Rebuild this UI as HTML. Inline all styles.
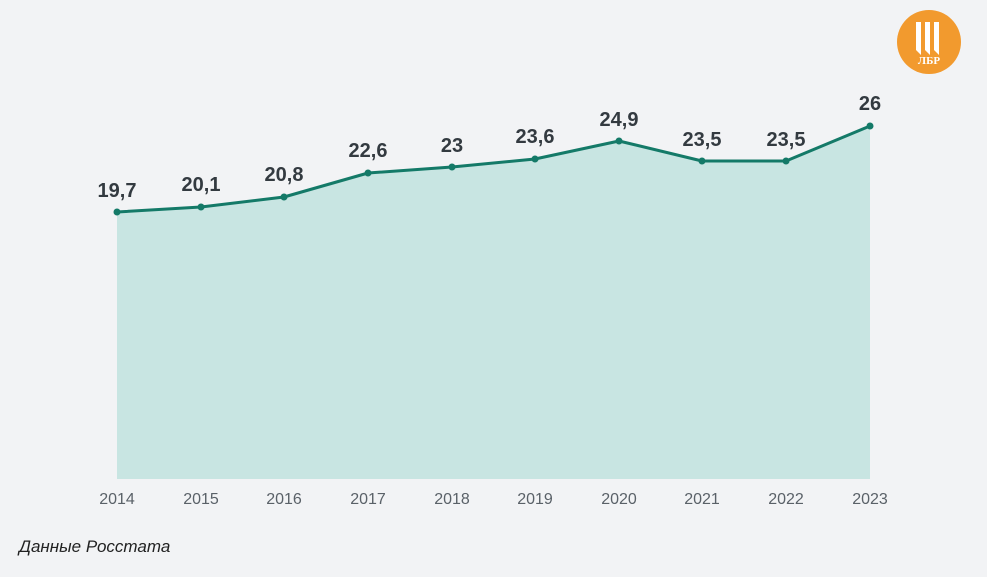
<!DOCTYPE html>
<html><head><meta charset="utf-8"><style>
html,body{margin:0;padding:0;background:#f2f3f5;}
svg{display:block;font-family:"Liberation Sans",sans-serif;}
</style></head><body>
<svg width="987" height="577" viewBox="0 0 987 577">
<rect width="987" height="577" fill="#f2f3f5"/>
<polygon fill="#c8e5e2" points="117,212 201,207 284,197 368,173 452,167 535,159 619,141 702,161 786,161 870,126 870,479 117,479"/>
<polyline fill="none" stroke="#147a68" stroke-width="3" stroke-linejoin="round" points="117,212 201,207 284,197 368,173 452,167 535,159 619,141 702,161 786,161 870,126"/>
<g fill="#147a68">
<circle cx="117" cy="212" r="3.5"/><circle cx="201" cy="207" r="3.5"/><circle cx="284" cy="197" r="3.5"/><circle cx="368" cy="173" r="3.5"/><circle cx="452" cy="167" r="3.5"/><circle cx="535" cy="159" r="3.5"/><circle cx="619" cy="141" r="3.5"/><circle cx="702" cy="161" r="3.5"/><circle cx="786" cy="161" r="3.5"/><circle cx="870" cy="126" r="3.5"/>
</g>
<g fill="#333a40" font-size="20" font-weight="bold" text-anchor="middle">
<text x="117" y="197">19,7</text><text x="201" y="191">20,1</text><text x="284" y="181">20,8</text><text x="368" y="157">22,6</text><text x="452" y="152">23</text><text x="535" y="143">23,6</text><text x="619" y="126">24,9</text><text x="702" y="146">23,5</text><text x="786" y="146">23,5</text><text x="870" y="110">26</text>
</g>
<g fill="#5a6168" font-size="16" text-anchor="middle">
<text x="117" y="504">2014</text><text x="201" y="504">2015</text><text x="284" y="504">2016</text><text x="368" y="504">2017</text><text x="452" y="504">2018</text><text x="535" y="504">2019</text><text x="619" y="504">2020</text><text x="702" y="504">2021</text><text x="786" y="504">2022</text><text x="870" y="504">2023</text>
</g>
<text x="19" y="552" font-size="17" font-style="italic" fill="#222">Данные Росстата</text>
<circle cx="929" cy="42" r="32" fill="#f29a2e"/>
<g fill="#fff">
<polygon points="916,22 921,22 921,55 916,50"/>
<polygon points="925,22 930,22 930,55 925,50"/>
<polygon points="934,22 939,22 939,55 934,50"/>
</g>
<text x="929" y="64" font-size="11" font-weight="bold" fill="#fff" text-anchor="middle" font-family="Liberation Serif,serif">ЛБР</text>
</svg>
</body></html>
